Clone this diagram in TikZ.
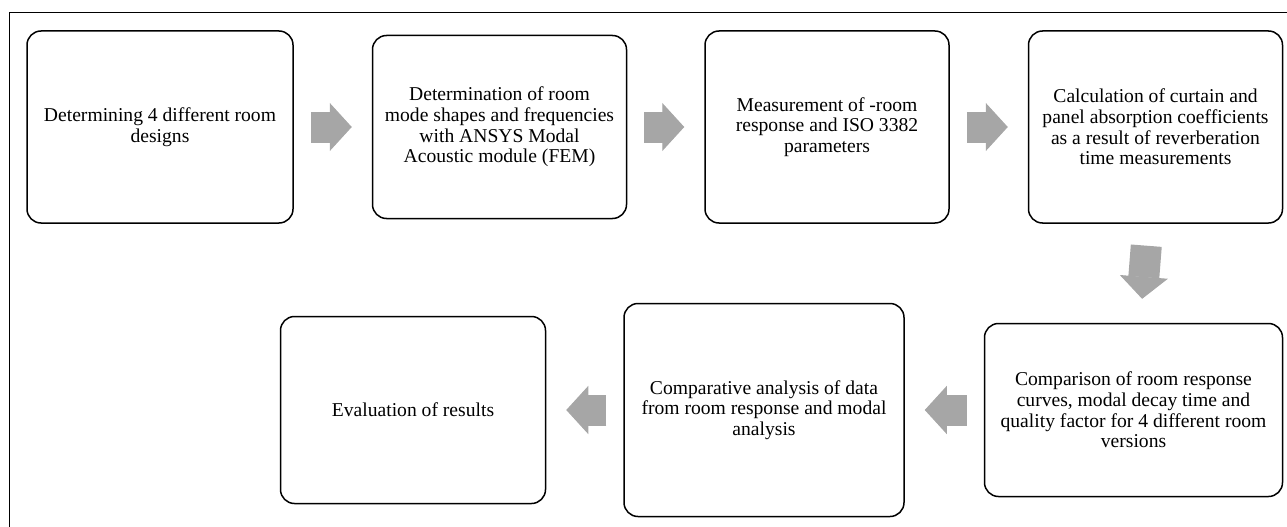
\documentclass[tikz,border=0pt]{standalone}
\usepackage{fontspec}
\setmainfont{Liberation Serif}
\usepackage{xcolor}
\definecolor{arrowgray}{RGB}{166,166,166}
\usepackage{tikz}
\usetikzlibrary{arrows.meta,positioning,calc}
\tikzset{
  stage/.style={draw,rounded corners=14pt,line width=1.5pt,fill=white,%
    font=\fontsize{19.6}{20.7}\selectfont,inner sep=4pt,align=center},
  flow/.style={-{Triangle[width=48pt,length=22pt,line width=1pt]},%
    line width=31pt,draw=arrowgray,shorten <=17pt,shorten >=20pt},
}

\begin{document}
\begin{tikzpicture}[x=1pt,y=-1pt,node distance=78pt]
\path[use as bounding box] (0,0) rectangle (1287,527);
\clip (0,0) rectangle (1287,527);
\draw[line width=0.8pt] (9,600) |- (1400,12);

% top row
\node[stage,minimum width=266pt,minimum height=192pt] (b1) at (160,127)
  {Determining 4 different room\\designs};
\node[stage,minimum width=254pt,minimum height=183pt,right=of b1] (b2)
  {Determination of room\\mode shapes and frequencies\\with ANSYS Modal\\Acoustic module (FEM)};
\node[stage,minimum width=244pt,minimum height=192pt,right=77pt of b2] (b3)
  {Measurement of -room\\response and ISO 3382\\parameters};
\node[stage,minimum width=254pt,minimum height=192pt,right=of b3] (b4)
  {Calculation of curtain and\\panel absorption coefficients\\as a result of reverberation\\time measurements};

% bottom row
\node[stage,minimum width=298pt,minimum height=173pt,below left=99pt and 0pt of b4.south east] (b5)
  {Comparison of room response\\curves, modal decay time and\\quality factor for 4 different room\\versions};
\node[stage,minimum width=280pt,minimum height=213pt,left=79pt of b5] (b6)
  {Comparative analysis of data\\from room response and modal\\analysis};
\node[stage,minimum width=265pt,minimum height=187pt,left=77pt of b6] (b7)
  {Evaluation of results};

\draw[flow] (b1) -- (b2);
\draw[flow] (b2) -- (b3);
\draw[flow] (b3) -- (b4);
\draw[flow,shorten <=22pt,shorten >=24pt] (b4) -- (b5);
\draw[flow] (b5) -- (b6);
\draw[flow] (b6) -- (b7);
\end{tikzpicture}
\end{document}
